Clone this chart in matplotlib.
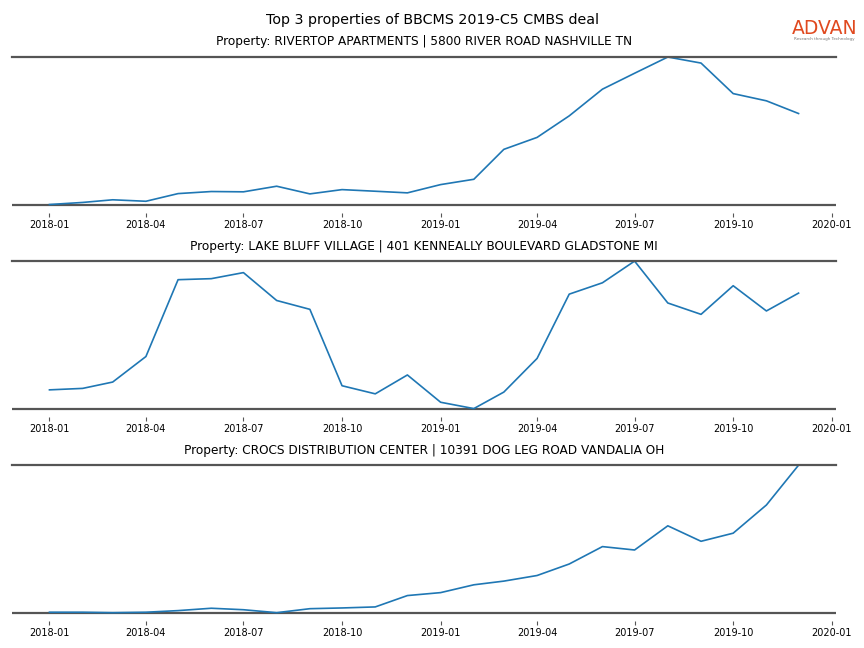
import numpy as np
import pandas as pd
import matplotlib
matplotlib.use("Agg")
import matplotlib.pyplot as plt
import matplotlib.dates as mdates

months = pd.date_range("2018-01-01", periods=24, freq="MS")

titles = [
    "Property: RIVERTOP APARTMENTS | 5800 RIVER ROAD NASHVILLE TN",
    "Property: LAKE BLUFF VILLAGE | 401 KENNEALLY BOULEVARD GLADSTONE MI",
    "Property: CROCS DISTRIBUTION CENTER | 10391 DOG LEG ROAD VANDALIA OH",
]

rivertop = [0.0, 1.4, 3.2, 2.2, 7.4, 8.8, 8.6, 12.4, 7.2, 10.1, 9.0, 7.9,
            13.5, 17.1, 37.4, 45.5, 60.1, 78.2, 89.0, 100.0, 95.9, 75.2, 70.3, 61.7]
lake_bluff = [12.7, 13.7, 18.0, 35.3, 87.4, 88.1, 92.2, 73.3, 67.3, 15.5, 10.0, 22.8,
              4.3, 0.0, 11.2, 34.0, 77.6, 85.3, 100.0, 71.6, 63.9, 83.3, 66.2, 78.3]
crocs = [0.3, 0.3, 0.0, 0.3, 1.4, 3.0, 2.0, 0.0, 2.7, 3.2, 3.9, 11.6,
         13.6, 18.9, 21.4, 25.2, 33.0, 44.8, 42.5, 58.9, 48.4, 53.9, 73.0, 100.0]

series = [rivertop, lake_bluff, crocs]

fig, axes = plt.subplots(3, 1, figsize=(8.64, 6.48), dpi=100)
fig.subplots_adjust(left=0.0139, right=0.9676, top=0.912, bottom=0.0417, hspace=0.31)

for ax, values, title in zip(axes, series, titles):
    ax.plot(months, values, color="#1f77b4", linewidth=1.2)
    lo, hi = min(values), max(values)
    # leave a small gap between the baseline and the tick marks
    ax.set_ylim(lo - 0.0563 * (hi - lo), hi)
    ax.axhline(lo, color="#555555", linewidth=1.6, zorder=0)
    ax.set_title(title, fontsize=8.7, pad=8.3)
    for side in ["left", "right", "bottom"]:
        ax.spines[side].set_visible(False)
    ax.spines["top"].set_color("#555555")
    ax.spines["top"].set_linewidth(1.6)
    ax.set_yticks([])
    ax.xaxis.set_major_locator(mdates.MonthLocator(bymonth=[1, 4, 7, 10]))
    ax.xaxis.set_major_formatter(mdates.DateFormatter("%Y-%m"))
    ax.tick_params(axis="x", labelsize=7, length=3, width=0.8, color="#555555", pad=2)

fig.suptitle("Top 3 properties of BBCMS 2019-C5 CMBS deal", fontsize=10.3, y=0.98)

# logo
fig.text(0.9545, 0.956, "ADVAN", color="#e0491f", fontsize=13.5, ha="center", va="center")
fig.text(0.9545, 0.94, "Research through Technology", color="#777777", fontsize=3,
         ha="center", va="center")

fig.savefig("out.png", dpi=100)
